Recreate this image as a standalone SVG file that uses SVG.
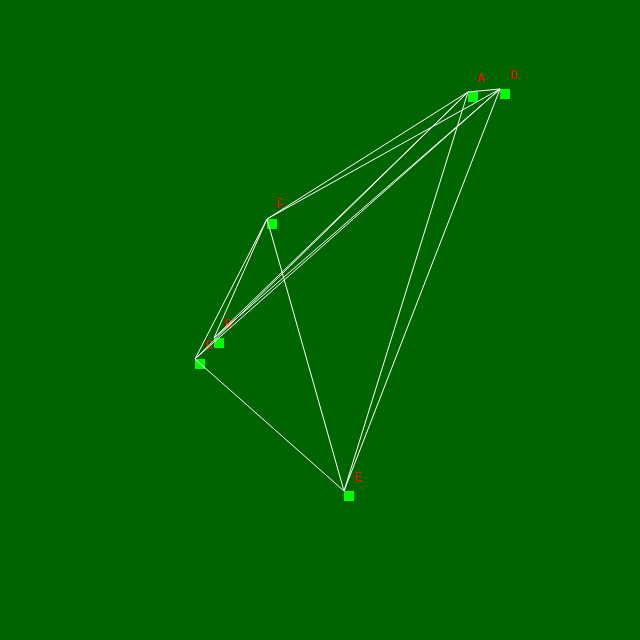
<svg xmlns="http://www.w3.org/2000/svg" width="640" height="640" viewBox="0 0 640 640">
<style>
.n rect{fill:#00ff00}
.n text{fill:#ff0000;font-family:"Liberation Mono","DejaVu Sans Mono",monospace;font-size:12px}
.e line{stroke:#ffffff;stroke-width:1}
</style>
<rect width="640" height="640" fill="#006400"/>
<g id="nodes">
<g id="A" class="n"><rect x="468" y="92" width="10" height="10"/><text x="477" y="82">A</text></g>
<g id="B" class="n"><rect x="214" y="338" width="10" height="10"/><text x="224" y="328">B</text></g>
<g id="C" class="n"><rect x="195" y="359" width="10" height="10"/><text x="205" y="349">C</text></g>
<g id="D" class="n"><rect x="500" y="89" width="10" height="10"/><text x="510" y="79">D</text></g>
<g id="E" class="n"><rect x="344" y="491" width="10" height="10"/><text x="354" y="481">E</text></g>
<g id="F" class="n"><rect x="267" y="219" width="10" height="10"/><text x="276" y="208">F</text></g>
</g>
<g id="connectors" class="e">
<line x1="468" y1="92" x2="500" y2="89"/>
<line x1="267" y1="219" x2="468" y2="92"/>
<line x1="267" y1="219" x2="500" y2="89"/>
<line x1="267" y1="219" x2="214" y2="338"/>
<line x1="267" y1="219" x2="195" y2="359"/>
<line x1="267" y1="219" x2="344" y2="491"/>
<line x1="195" y1="359" x2="344" y2="491"/>
<line x1="344" y1="491" x2="468" y2="92"/>
<line x1="344" y1="491" x2="500" y2="89"/>
<line x1="214" y1="338" x2="468" y2="92"/>
<line x1="214" y1="338" x2="500" y2="89"/>
<line x1="195" y1="359" x2="468" y2="92"/>
<line x1="195" y1="359" x2="500" y2="89"/>
</g>
</svg>
